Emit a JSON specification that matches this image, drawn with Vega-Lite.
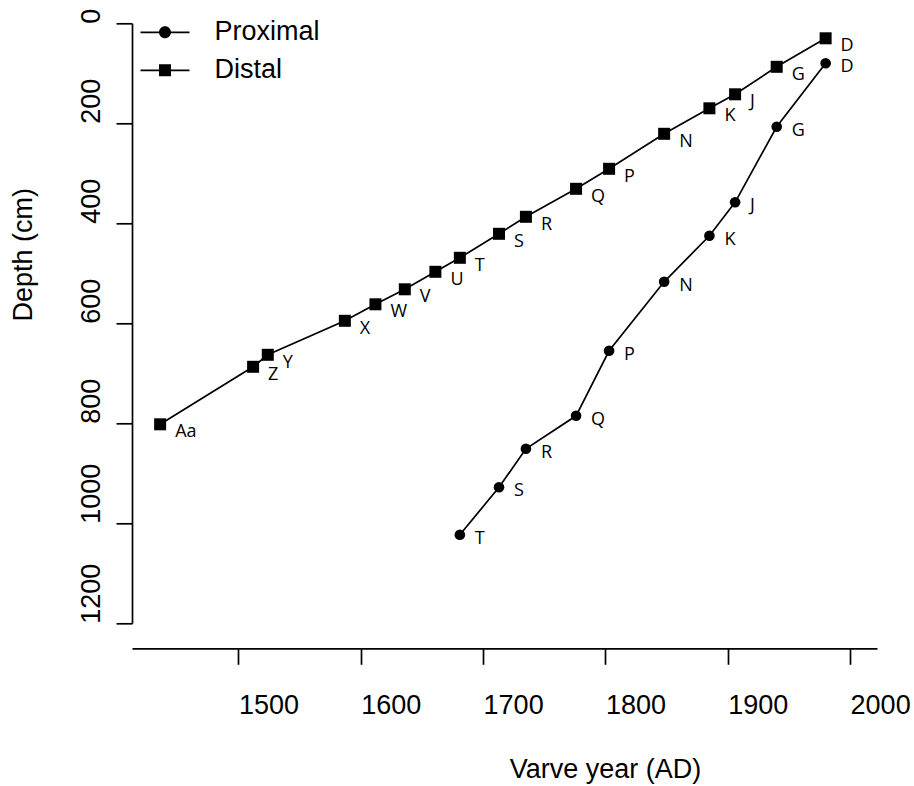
{
  "$schema": "https://vega.github.io/schema/vega-lite/v6.json",
  "autosize": "none",
  "width": 745,
  "height": 600,
  "padding": {"left": 132, "top": 23.3, "right": 37, "bottom": 162.7},
  "background": "white",
  "config": {
    "view": {"stroke": null},
    "axis": {"grid": false, "domainColor": "black", "tickColor": "black", "labelColor": "black", "titleColor": "black", "domainWidth": 1.7, "tickWidth": 1.7, "tickSize": 16, "labelFont": "Liberation Sans", "titleFont": "Liberation Sans", "labelFontSize": 27, "titleFontSize": 27, "titleFontWeight": "normal", "labelFlush": false, "labelOverlap": false, "format": "d"},
    "legend": {"symbolFillColor": "black"}
  },
  "data": {
    "values": [
      {"series": "Distal", "lab": "D", "year": 1980, "depth": 30},
      {"series": "Distal", "lab": "G", "year": 1940, "depth": 87},
      {"series": "Distal", "lab": "J", "year": 1906, "depth": 142},
      {"series": "Distal", "lab": "K", "year": 1885, "depth": 170},
      {"series": "Distal", "lab": "N", "year": 1848, "depth": 221},
      {"series": "Distal", "lab": "P", "year": 1803, "depth": 291},
      {"series": "Distal", "lab": "Q", "year": 1776, "depth": 331},
      {"series": "Distal", "lab": "R", "year": 1735, "depth": 387},
      {"series": "Distal", "lab": "S", "year": 1713, "depth": 421},
      {"series": "Distal", "lab": "T", "year": 1681, "depth": 469},
      {"series": "Distal", "lab": "U", "year": 1661, "depth": 497},
      {"series": "Distal", "lab": "V", "year": 1636, "depth": 532},
      {"series": "Distal", "lab": "W", "year": 1612, "depth": 562},
      {"series": "Distal", "lab": "X", "year": 1587, "depth": 595},
      {"series": "Distal", "lab": "Y", "year": 1524, "depth": 663},
      {"series": "Distal", "lab": "Z", "year": 1512, "depth": 687},
      {"series": "Distal", "lab": "Aa", "year": 1436, "depth": 802},
      {"series": "Proximal", "lab": "D", "year": 1980, "depth": 80},
      {"series": "Proximal", "lab": "G", "year": 1940, "depth": 207},
      {"series": "Proximal", "lab": "J", "year": 1906, "depth": 358},
      {"series": "Proximal", "lab": "K", "year": 1885, "depth": 425},
      {"series": "Proximal", "lab": "N", "year": 1848, "depth": 517},
      {"series": "Proximal", "lab": "P", "year": 1803, "depth": 655},
      {"series": "Proximal", "lab": "Q", "year": 1776, "depth": 785},
      {"series": "Proximal", "lab": "R", "year": 1735, "depth": 851},
      {"series": "Proximal", "lab": "S", "year": 1713, "depth": 928},
      {"series": "Proximal", "lab": "T", "year": 1681, "depth": 1023}
    ]
  },
  "encoding": {
    "x": {"field": "year", "type": "quantitative", "scale": {"domain": [1413, 2022], "nice": false, "zero": false},
      "axis": {"values": [1500, 1600, 1700, 1800, 1900, 2000], "offset": 25, "labelAlign": "left", "labelBaseline": "alphabetic", "labelPadding": 49, "title": "Varve year (AD)", "titleX": 473, "titleY": 129, "titleBaseline": "alphabetic", "titleAlign": "center"}},
    "y": {"field": "depth", "type": "quantitative", "scale": {"domain": [0, 1200], "reverse": true, "nice": false, "zero": false},
      "axis": {"values": [0, 200, 400, 600, 800, 1000, 1200], "labelAngle": 270, "labelAlign": "left", "labelBaseline": "alphabetic", "labelPadding": 17, "title": "Depth (cm)", "titleAngle": 270, "titleX": -100.5, "titleY": 231, "titleBaseline": "alphabetic", "titleAlign": "center"}}
  },
  "layer": [
    {
      "mark": {"type": "line", "color": "black", "strokeWidth": 1.7},
      "encoding": {"detail": {"field": "series"}, "order": {"field": "depth", "type": "quantitative"}}
    },
    {
      "transform": [{"filter": "datum.series == 'Proximal'"}],
      "mark": {"type": "point", "shape": "circle", "filled": true, "opacity": 1, "color": "black", "size": 113}
    },
    {
      "transform": [{"filter": "datum.series == 'Distal'"}],
      "mark": {"type": "point", "shape": "square", "filled": true, "opacity": 1, "color": "black", "size": 144}
    },
    {
      "transform": [{"filter": "false"}],
      "mark": {"type": "point", "filled": true, "opacity": 1, "color": "black", "size": 2401},
      "encoding": {
        "shape": {"field": "series", "type": "nominal",
          "scale": {"domain": ["Proximal", "Distal"], "range": ["M-1,-0.035L1,-0.035L1,0.035L-1,0.035ZM0.245,0A0.245,0.245,0,1,1,-0.245,0A0.245,0.245,0,1,1,0.245,0Z", "M-1,-0.035L1,-0.035L1,0.035L-1,0.035ZM-0.245,-0.245L0.245,-0.245L0.245,0.245L-0.245,0.245Z"]},
          "legend": {"orient": "none", "legendX": 8.5, "legendY": -15.5, "title": null, "padding": 0, "symbolSize": 2401, "rowPadding": -15, "labelOffset": 25, "labelFont": "Liberation Sans", "labelFontSize": 27, "labelColor": "black", "labelBaseline": "middle", "symbolFillColor": "black", "symbolStrokeWidth": 0, "symbolOpacity": 1}}
      }
    },
    {
      "transform": [{"filter": "datum.series == 'Distal'"}],
      "mark": {"type": "text", "align": "left", "baseline": "middle", "dx": 15, "dy": 8, "font": "Open Sans", "fontSize": 18, "color": "black"},
      "encoding": {"text": {"field": "lab"}}
    },
    {
      "transform": [{"filter": "datum.series == 'Proximal'"}],
      "mark": {"type": "text", "align": "left", "baseline": "middle", "dx": 15, "dy": 4, "font": "Open Sans", "fontSize": 18, "color": "black"},
      "encoding": {"text": {"field": "lab"}}
    }
  ]
}
